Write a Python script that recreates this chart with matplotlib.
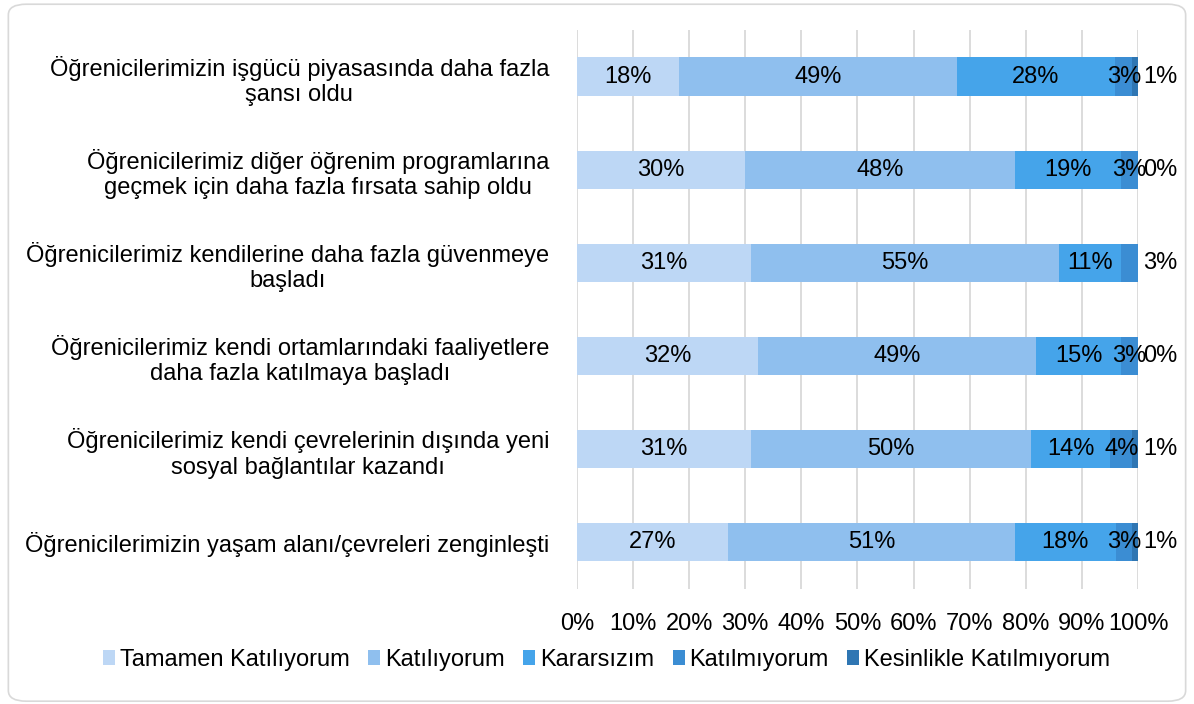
import matplotlib
matplotlib.use("Agg")
import matplotlib.pyplot as plt
from matplotlib.patches import FancyBboxPatch
import numpy as np

plt.rcParams['font.family'] = ['Liberation Sans', 'DejaVu Sans']

categories = [
    "Öğrenicilerimizin işgücü piyasasında daha fazla\nşansı oldu",
    "Öğrenicilerimiz diğer öğrenim programlarına\ngeçmek için daha fazla fırsata sahip oldu",
    "Öğrenicilerimiz kendilerine daha fazla güvenmeye\nbaşladı",
    "Öğrenicilerimiz kendi ortamlarındaki faaliyetlere\ndaha fazla katılmaya başladı",
    "Öğrenicilerimiz kendi çevrelerinin dışında yeni\nsosyal bağlantılar kazandı",
    "Öğrenicilerimizin yaşam alanı/çevreleri zenginleşti",
]
series_names = ["Tamamen Katılıyorum", "Katılıyorum", "Kararsızım",
                "Katılmıyorum", "Kesinlikle Katılmıyorum"]
tamamen = [18, 30, 31, 32, 31, 27]
katiliyorum = [49, 48, 55, 49, 50, 51]
kararsizim = [28, 19, 11, 15, 14, 18]
katilmiyorum = [3, 3, 3, 3, 4, 3]
kesinlikle = [1, 0, 0, 0, 1, 1]
# label shown outside the bar end for each row (row 3 shows the 3% there)
outside_labels = ["1%", "0%", "3%", "0%", "1%", "1%"]
inside_last_label = [True, True, False, True, True, True]

colors = ["#BDD7F5", "#8FBFEE", "#45A4EA", "#3B8DD3", "#2F76B3"]
xticks = [0, 10, 20, 30, 40, 50, 60, 70, 80, 90, 100]

data = np.array([tamamen, katiliyorum, kararsizim, katilmiyorum, kesinlikle], dtype=float)
pct = data / data.sum(axis=0) * 100

FS = 17

fig = plt.figure(figsize=(11.94, 7.04), dpi=100)
ax = fig.add_axes([0.4832, 0.1634, 0.4699, 0.794])

y = np.arange(len(categories))
left = np.zeros(len(categories))
for i, name in enumerate(series_names):
    ax.barh(y, pct[i], left=left, height=0.41, color=colors[i], label=name, zorder=3)
    for r in range(len(categories)):
        lab = f"{int(data[i, r])}%"
        cx = left[r] + pct[i, r] / 2
        if i <= 2:
            ax.text(cx, y[r], lab, ha="center", va="center", fontsize=FS, color="black", zorder=4)
        elif i == 3:
            if inside_last_label[r]:
                ax.text(cx, y[r], lab, ha="center", va="center", fontsize=FS, color="black", zorder=4)
        else:
            ax.text(104.0, y[r], outside_labels[r], ha="center", va="center",
                    fontsize=FS, color="black", zorder=4, clip_on=False)
    left += pct[i]

ax.set_ylim(len(categories) - 0.5, -0.5)
ax.set_xlim(0, 100)
ax.set_yticks(y)
ax.set_yticklabels(categories, fontsize=FS, ha="right", multialignment="center",
                   linespacing=1.2)
ax.set_xticks(xticks)
ax.set_xticklabels([f"{v}%" for v in xticks], fontsize=FS)
ax.tick_params(axis="both", length=0)
ax.tick_params(axis="y", pad=20)
ax.tick_params(axis="x", pad=17)
for s in ax.spines.values():
    s.set_visible(False)
ax.grid(axis="x", color="#D9D9D9", linewidth=1.3, zorder=0)

fig.legend(loc="center", bbox_to_anchor=(0.508, 0.0625), ncol=5, frameon=False,
           fontsize=FS, handlelength=0.5, handleheight=0.6, handletextpad=0.2,
           columnspacing=0.8)

border = FancyBboxPatch((0.007, 0.004), 0.986, 0.99, boxstyle="round,pad=0,rounding_size=0.015",
                        transform=fig.transFigure, facecolor="none", edgecolor="#D9D9D9",
                        linewidth=1.2)
fig.patches.append(border)

fig.savefig("out.png", dpi=100)
